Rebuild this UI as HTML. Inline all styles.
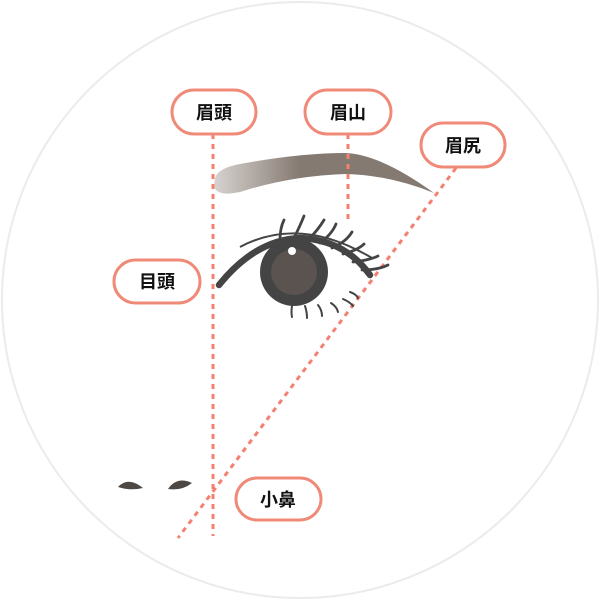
<!DOCTYPE html>
<html><head><meta charset="utf-8"><style>
html,body{margin:0;padding:0;background:#fff;}
svg{display:block;}
text{font-family:"Liberation Sans","Noto Sans CJK JP",sans-serif;font-weight:bold;font-size:18px;fill:#111;}
</style></head><body>
<svg width="600" height="600" viewBox="0 0 600 600" xmlns="http://www.w3.org/2000/svg">
<defs>
<linearGradient id="bg" x1="213" y1="0" x2="300" y2="0" gradientUnits="userSpaceOnUse">
<stop offset="0" stop-color="#d8d4d1"/><stop offset="1" stop-color="#857a72"/>
</linearGradient>
</defs>
<circle cx="300" cy="300" r="298" fill="#fff" stroke="#ebebeb" stroke-width="2"/>
<path d="M215,178 Q218,168 240,164 Q300,153 345,153 Q380,154 434,193 Q390,175 345,174 Q290,176 240,192 Q216,197 214,186 Z" fill="url(#bg)"/>
<g stroke="#f5806e" stroke-width="3" stroke-dasharray="5,5" fill="none">
<line x1="213" y1="134" x2="213" y2="536"/>
<line x1="348" y1="134" x2="348" y2="224"/>
<line x1="456" y1="168" x2="178" y2="538"/>
</g>
<circle cx="294" cy="272" r="34" fill="#444"/>
<circle cx="294" cy="272" r="23" fill="#5a5350"/>
<circle cx="292" cy="251" r="4" fill="#fff"/>
<path d="M219,285 Q255,240 300,238 Q345,240 370,275" fill="none" stroke="#444" stroke-width="6.5" stroke-linecap="round"/>
<path d="M240,247 Q300,215 372,258" fill="none" stroke="#444" stroke-width="2"/>
<g fill="none" stroke="#444" stroke-width="2.8" stroke-linecap="round">
<path d="M280,240 Q280,228 284,220"/>
<path d="M294,238 Q300,226 304,216"/>
<path d="M308,240 Q318,230 324,220"/>
<path d="M320,243 Q332,234 336,224"/>
<path d="M332,248 Q346,242 352,232"/>
<path d="M343,254 Q358,250 364,244"/>
<path d="M353,262 Q370,260 378,256"/>
<path d="M362,270 Q378,270 388,265"/>
</g>
<g fill="none" stroke="#444" stroke-width="2" stroke-linecap="round">
<path d="M292,306 Q291,312 292,317"/>
<path d="M305,306 Q307,312 307,318"/>
<path d="M318,305 Q322,310 322,316"/>
<path d="M331,303 Q337,307 338,312"/>
<path d="M343,299 Q350,302 353,306"/>
<path d="M350,292 Q356,294 358,298"/>
</g>
<path d="M118,487 Q128,476 143,488 Q130,491 118,487 Z" fill="#4e4844"/>
<path d="M168,489 Q177,476 192,483 Q182,491 168,489 Z" fill="#4e4844"/>
<g fill="#fff" stroke="#f08a78" stroke-width="3">
<rect x="172" y="90" width="84" height="44" rx="22"/>
<rect x="305" y="90" width="86" height="44" rx="22"/>
<rect x="421" y="123" width="84" height="44" rx="22"/>
<rect x="114" y="260" width="86" height="43" rx="21.5"/>
<rect x="236" y="478" width="85" height="42" rx="21"/>
</g>
<g text-anchor="middle">
<text x="214" y="119">眉頭</text>
<text x="348" y="119">眉山</text>
<text x="463" y="152">眉尻</text>
<text x="157" y="288">目頭</text>
<text x="278" y="506">小鼻</text>
</g>
</svg>
</body></html>
